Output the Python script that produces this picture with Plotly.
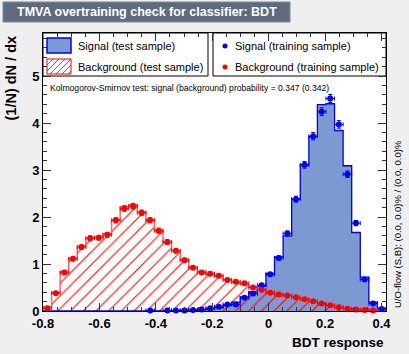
import numpy as np
import plotly.graph_objects as go

# binning of the BDT response histograms
x_min, x_max, n_bins = -0.8, 0.416, 40

# normalised (1/N dN/dx) bin contents
sig_test = [0, 0, 0, 0, 0, 0, 0, 0, 0, 0, 0, 0, 0, 0, 0.01, 0.01, 0.02, 0.02, 0.03, 0.04,
            0.07, 0.12, 0.19, 0.30, 0.41, 0.53, 0.80, 1.15, 1.60, 2.38, 3.11, 3.71, 4.39, 4.41,
            3.84, 3.09, 1.67, 0.72, 0.19, 0.06]
sig_train = [0, 0, 0, 0, 0, 0, 0, 0, 0, 0, 0, 0, 0.01, 0, 0.01, 0.01, 0.01, 0.02, 0.03, 0.06,
             0.09, 0.14, 0.14, 0.28, 0.37, 0.55, 0.78, 1.13, 1.65, 2.38, 3.11, 3.72, 4.24, 4.52,
             3.97, 2.91, 1.87, 0.67, 0.16, 0.04]
bkg_test = [0.09, 0.40, 0.84, 1.12, 1.37, 1.55, 1.57, 1.65, 1.94, 2.22, 2.26, 2.11, 1.94, 1.72,
            1.46, 1.29, 1.09, 0.93, 0.84, 0.78, 0.74, 0.67, 0.60, 0.57, 0.51, 0.46, 0.41, 0.36,
            0.32, 0.28, 0.26, 0.20, 0.17, 0.12, 0.09, 0.05, 0.03, 0.02, 0.01, 0.01]
bkg_train = [0.06, 0.38, 0.82, 1.11, 1.36, 1.55, 1.56, 1.62, 1.93, 2.18, 2.23, 2.09, 1.93, 1.71,
             1.47, 1.28, 1.08, 0.92, 0.82, 0.79, 0.75, 0.66, 0.62, 0.59, 0.50, 0.45, 0.39, 0.35,
             0.33, 0.29, 0.25, 0.21, 0.16, 0.12, 0.08, 0.05, 0.03, 0.02, 0.01, 0.0]
n_train = 20000  # events per class, sets the statistical error bars

x_ticks = [-0.8, -0.6, -0.4, -0.2, 0, 0.2, 0.4]
x_ticklabels = ["-0.8", "-0.6", "-0.4", "-0.2", "0", "0.2", "0.4"]
y_ticks = [0, 1, 2, 3, 4, 5]

title = "TMVA overtraining check for classifier: BDT"
ks_text = "Kolmogorov-Smirnov test: signal (background) probability = 0.347 (0.342)"
uo_text = "U/O-flow (S,B): (0.0, 0.0)% / (0.0, 0.0)%"

SIG_FILL, SIG_LINE = "#7d99d1", "#0000ee"
BKG = "#ff0000"
FONT = "Liberation Sans"

W, H = 409, 354
L, R, T, B = 43, 386, 33, 311


def fx(px):
    return (px - L) / (R - L)


def fy(py):
    return (B - py) / (B - T)


edges = np.linspace(x_min, x_max, n_bins + 1)
width = edges[1] - edges[0]
centers = 0.5 * (edges[:-1] + edges[1:])


def step(vals):
    xs = np.concatenate([[edges[0]], edges])
    ys = np.concatenate([[0], vals, [vals[-1]]])
    xs = np.append(xs, edges[-1])
    ys = np.append(ys, 0)
    return xs, ys


def points(vals, color):
    v = np.array(vals)
    m = v > 0
    err = np.sqrt(v[m] / (n_train * width))
    return go.Scatter(
        x=centers[m], y=v[m], mode="markers",
        marker=dict(symbol="circle", size=6, color=color),
        error_y=dict(type="data", array=err, color=color, thickness=1, width=2),
        error_x=dict(type="constant", value=width / 2, color=color, thickness=1, width=2),
        showlegend=False, cliponaxis=False,
    )


fig = go.Figure()

fig.add_trace(go.Bar(x=centers, y=sig_test, width=width,
                     marker=dict(color=SIG_FILL, line_width=0), showlegend=False))
sx, sy = step(sig_test)
fig.add_trace(go.Scatter(x=sx, y=sy, mode="lines", line=dict(color=SIG_LINE, width=1.3, shape="hv"),
                         showlegend=False))
fig.add_trace(go.Bar(x=centers, y=bkg_test, width=width,
                     marker=dict(color="rgba(0,0,0,0)", line_width=0,
                                 pattern=dict(shape="/", fgcolor=BKG, bgcolor="rgba(0,0,0,0)",
                                              size=9, solidity=0.12, fillmode="replace")),
                     showlegend=False))
bx, by = step(bkg_test)
fig.add_trace(go.Scatter(x=bx, y=by, mode="lines", line=dict(color="rgba(255,60,60,0.8)", width=1.5, shape="hv"),
                         showlegend=False))
fig.add_trace(points(sig_train, "#0000ff"))
fig.add_trace(points(bkg_train, BKG))

shapes = []
ann = []

# title box
shapes.append(dict(type="rect", xref="paper", yref="paper", x0=fx(3), x1=fx(290), y0=fy(22), y1=fy(2),
                   fillcolor="#5d6b7d", line=dict(color="#7d8b9d", width=1), layer="above"))
ann.append(dict(text=title, x=fx(147), y=fy(12), xref="paper", yref="paper", showarrow=False,
                xanchor="center", yanchor="middle",
                font=dict(family=FONT, size=12.5, color="white", weight="bold")))

# legend boxes
for x0, x1 in [(43, 208), (213, 386)]:
    shapes.append(dict(type="rect", xref="paper", yref="paper", x0=fx(x0), x1=fx(x1), y0=fy(76), y1=fy(33),
                       fillcolor="white", line=dict(color="black", width=1), layer="below"))

shapes.append(dict(type="rect", xref="paper", yref="paper", x0=fx(47), x1=fx(71), y0=fy(53), y1=fy(38),
                   fillcolor=SIG_FILL, line=dict(color=SIG_LINE, width=1.5)))
shapes.append(dict(type="rect", xref="paper", yref="paper", x0=fx(47), x1=fx(71), y0=fy(74), y1=fy(59),
                   fillcolor="white", line=dict(color=BKG, width=1)))
# hatching inside the legend swatch
bx0, bx1, by0, by1 = 47, 71, 74, 59
hgt = by0 - by1
for s in np.arange(bx0 - hgt, bx1, 6):
    xa, ya = s, by0
    xb, yb = s + hgt, by1
    if xa < bx0:
        ya = by0 - (bx0 - xa)
        xa = bx0
    if xb > bx1:
        yb = by1 + (xb - bx1)
        xb = bx1
    shapes.append(dict(type="line", xref="paper", yref="paper", x0=fx(xa), y0=fy(ya), x1=fx(xb), y1=fy(yb),
                       line=dict(color=BKG, width=0.8)))
for yy, col in [(46, "#0000ff"), (67, BKG)]:
    shapes.append(dict(type="circle", xref="paper", yref="paper", x0=fx(222.5), x1=fx(227.5),
                       y0=fy(yy + 2.5), y1=fy(yy - 2.5), fillcolor=col, line=dict(color=col, width=0)))

for txt, xx, yy in [("Signal (test sample)", 76, 46), ("Background (test sample)", 76, 67),
                    ("Signal (training sample)", 233, 46), ("Background (training sample)", 233, 67)]:
    ann.append(dict(text=txt, x=fx(xx), y=fy(yy), xref="paper", yref="paper", showarrow=False,
                    xanchor="left", yanchor="middle", font=dict(family=FONT, size=11, color="black")))

ann.append(dict(text=ks_text, x=fx(48), y=fy(88), xref="paper", yref="paper", showarrow=False,
                xanchor="left", yanchor="middle", font=dict(family=FONT, size=8.6, color="black")))
ann.append(dict(text="(1/N) dN / dx", x=fx(10), y=fy(34), xref="paper", yref="paper", showarrow=False,
                textangle=-90, xanchor="center", yanchor="top",
                font=dict(family=FONT, size=14.5, color="black", weight="bold")))
ann.append(dict(text="BDT response", x=fx(386), y=fy(342), xref="paper", yref="paper", showarrow=False,
                xanchor="right", yanchor="middle",
                font=dict(family=FONT, size=13.5, color="black", weight="bold")))
ann.append(dict(text=uo_text, x=fx(397), y=fy(310), xref="paper", yref="paper", showarrow=False,
                textangle=-90, xanchor="center", yanchor="bottom",
                font=dict(family=FONT, size=9.5, color="black")))

fig.update_layout(
    width=W, height=H,
    margin=dict(l=L, r=W - R, t=T, b=H - B, pad=0),
    paper_bgcolor="#efefef", plot_bgcolor="white",
    barmode="overlay", bargap=0,
    shapes=shapes, annotations=ann,
    showlegend=False,
)
fig.update_xaxes(
    range=[x_min, x_max], tickmode="array", tickvals=x_ticks, ticktext=x_ticklabels,
    ticks="inside", ticklen=8, tickcolor="#333", showline=True, linecolor="black", linewidth=1,
    mirror="ticks", showgrid=False, zeroline=False,
    tickfont=dict(family=FONT, size=13, color="black", weight="bold"),
    minor=dict(tick0=-0.8, dtick=0.05, ticks="inside", ticklen=4, tickcolor="#333"),
)
fig.update_yaxes(
    range=[0, (B - T) / 47], tickmode="array", tickvals=y_ticks,
    ticks="inside", ticklen=8, tickcolor="#333", showline=True, linecolor="black", linewidth=1,
    mirror="ticks", showgrid=False, zeroline=False,
    tickfont=dict(family=FONT, size=13, color="black", weight="bold"),
    minor=dict(tick0=0, dtick=0.2, ticks="inside", ticklen=4, tickcolor="#333"),
)

# drop the browser's default page margin so the figure sits at the window corner
fig.write_html("out.html", config={"displayModeBar": False},
               post_script="document.body.style.margin='0';")
